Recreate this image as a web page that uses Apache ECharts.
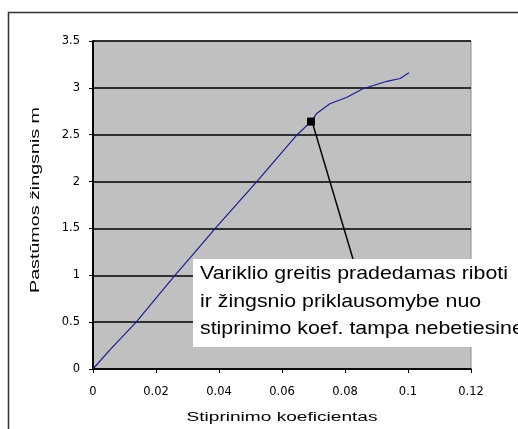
<!DOCTYPE html>
<html>
<head>
<meta charset="utf-8">
<script src="https://cdn.jsdelivr.net/npm/echarts@6/dist/echarts.min.js"></script>
<style>
  html, body { margin: 0; padding: 0; background: #ffffff; }
  #chart { width: 518px; height: 429px; }
</style>
</head>
<body>
<div id="chart"></div>
<script>
// Gain coefficient (x) against feed step in metres (y)
const gainValues = [0, 0.005, 0.0137, 0.026, 0.0317, 0.0388, 0.052, 0.0648, 0.0692, 0.0711, 0.0752, 0.0806, 0.0857, 0.0933, 0.0975, 0.1003];
const stepValues = [0, 0.19, 0.5, 1.0, 1.22, 1.5, 2.0, 2.5, 2.64, 2.73, 2.83, 2.90, 2.99, 3.07, 3.10, 3.16];
// Index of the point where the motor speed starts to saturate
const kneeIndex = 8;

const xTicks = ['0', '0.02', '0.04', '0.06', '0.08', '0.1', '0.12'];
const yTicks = ['0', '0.5', '1', '1.5', '2', '2.5', '3', '3.5'];

const xTitle = 'Stiprinimo koeficientas';
const yTitle = 'Pastūmos žingsnis m';

const noteLines = [
  'Variklio greitis pradedamas riboti',
  'ir žingsnio priklausomybe nuo',
  'stiprinimo koef. tampa nebetiesine'
];

const FONT = '"Liberation Sans", Arial, sans-serif';
const TICK_FONT = '"DejaVu Sans", sans-serif';

// Horizontal stretch factor so a string spans the wanted width
const measureCtx = document.createElement('canvas').getContext('2d');
function stretchFor(text, size, wanted) {
  measureCtx.font = size + 'px ' + FONT;
  return wanted / measureCtx.measureText(text).width;
}

const seriesData = gainValues.map((x, i) => {
  if (i === kneeIndex) {
    return {
      value: [x, stepValues[i]],
      symbol: 'rect',
      symbolSize: 8,
      itemStyle: { color: '#000000' }
    };
  }
  return { value: [x, stepValues[i]], symbol: 'none' };
});

const chart = echarts.init(document.getElementById('chart'), null, { renderer: 'canvas' });

chart.setOption({
  animation: false,
  backgroundColor: '#ffffff',
  grid: {
    left: 93, top: 41, right: 47, bottom: 60,
    show: true,
    backgroundColor: '#c0c0c0',
    borderColor: '#8c8c8c',
    borderWidth: 1
  },
  xAxis: {
    type: 'value',
    min: 0, max: 0.12, interval: 0.02,
    axisLine: { show: true, lineStyle: { color: '#000', width: 1.5 } },
    axisTick: { show: true, length: 4, lineStyle: { color: '#000' } },
    axisLabel: {
      margin: 17,
      fontFamily: TICK_FONT, fontSize: 11.5, color: '#000',
      formatter: (v) => xTicks[Math.round(v / 0.02)]
    },
    splitLine: { show: false }
  },
  yAxis: {
    type: 'value',
    min: 0, max: 3.5, interval: 0.5,
    axisLine: { show: true, lineStyle: { color: '#000', width: 2 } },
    axisTick: { show: true, length: 4, lineStyle: { color: '#000' } },
    axisLabel: {
      margin: 13,
      fontFamily: TICK_FONT, fontSize: 11.5, color: '#000',
      formatter: (v) => yTicks[Math.round(v / 0.5)]
    },
    splitLine: { show: true, lineStyle: { color: '#000', width: 1.5 } }
  },
  series: [{
    type: 'line',
    data: seriesData,
    showSymbol: true,
    lineStyle: { color: '#1c1c94', width: 1.2 },
    itemStyle: { color: '#1c1c94' },
    z: 3
  }]
});

// Axis titles, callout box and leader line from the saturation point
const knee = chart.convertToPixel({ gridIndex: 0 }, [gainValues[kneeIndex], stepValues[kneeIndex]]);
const boxX = 193, boxY = 259, boxW = 340, boxH = 88;
const lineH = 27.5;
const noteSize = 19;
const noteStretch = stretchFor(noteLines[0], noteSize, 308);

chart.setOption({
  graphic: [
    {
      type: 'rect',
      z: 0,
      shape: { x: 8.5, y: 12.5, width: 600, height: 500 },
      style: { fill: 'none', stroke: '#333333', lineWidth: 1.5 },
      silent: true
    },
    {
      type: 'text',
      x: 282, y: 418,
      scaleX: stretchFor(xTitle, 12.5, 191),
      style: {
        text: xTitle, fontFamily: FONT, fontSize: 12.5, fill: '#000',
        align: 'center', verticalAlign: 'middle'
      },
      silent: true
    },
    {
      type: 'text',
      x: 36, y: 200,
      rotation: Math.PI / 2,
      scaleX: stretchFor(yTitle, 12.5, 186),
      style: {
        text: yTitle, fontFamily: FONT, fontSize: 12.5, fill: '#000',
        align: 'center', verticalAlign: 'middle'
      },
      silent: true
    },
    {
      type: 'line',
      z: 10,
      shape: { x1: knee[0] + 2, y1: knee[1] + 3, x2: 353, y2: boxY },
      style: { stroke: '#000000', lineWidth: 1.5 },
      silent: true
    },
    {
      type: 'rect',
      z: 11,
      shape: { x: boxX, y: boxY, width: boxW, height: boxH },
      style: { fill: '#ffffff', stroke: 'none' },
      silent: true
    },
    ...noteLines.map((t, i) => ({
      type: 'text',
      z: 12,
      x: 200,
      y: boxY + 15 + i * lineH,
      scaleX: noteStretch,
      style: {
        text: t,
        fontFamily: FONT,
        fontSize: noteSize,
        fill: '#000000',
        verticalAlign: 'middle'
      },
      silent: true
    }))
  ]
});
</script>
</body>
</html>
